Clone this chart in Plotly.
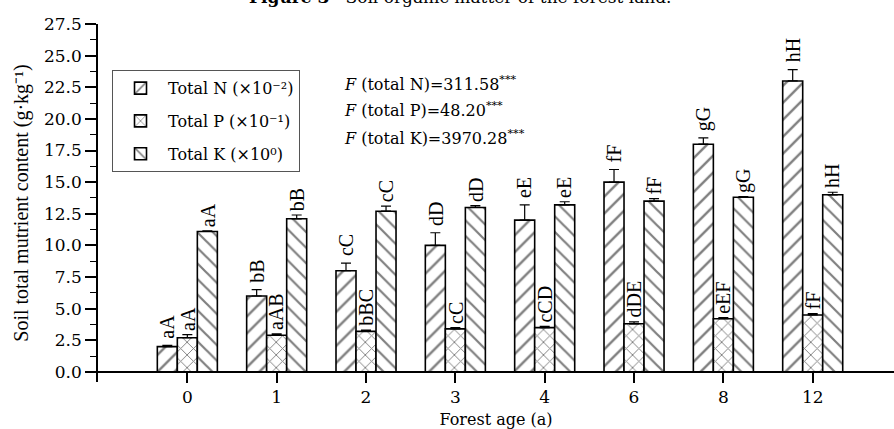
import plotly.graph_objects as go

# Forest age groups and measured nutrient contents (g/kg, scaled as in legend)
ages = ["0", "1", "2", "3", "4", "6", "8", "12"]

total_n = [2.0, 6.0, 8.0, 10.0, 12.0, 15.0, 18.0, 23.0]
total_n_err = [0.1, 0.5, 0.6, 1.0, 1.2, 1.0, 0.5, 0.9]
total_n_sig = ["aA", "bB", "cC", "dD", "eE", "fF", "gG", "hH"]

total_p = [2.7, 2.9, 3.2, 3.4, 3.5, 3.8, 4.2, 4.5]
total_p_err = [0.25, 0.1, 0.1, 0.1, 0.1, 0.15, 0.1, 0.1]
total_p_sig = ["aA", "aAB", "bBC", "cC", "cCD", "dDE", "eEF", "fF"]

total_k = [11.1, 12.1, 12.7, 13.0, 13.2, 13.5, 13.8, 14.0]
total_k_err = [0.05, 0.3, 0.4, 0.15, 0.25, 0.2, 0.05, 0.2]
total_k_sig = ["aA", "bB", "cC", "dD", "eE", "fF", "gG", "hH"]

f_stats = ["311.58", "48.20", "3970.28"]

H_FONT = "DejaVu Serif"      # horizontal text
V_FONT = "Liberation Serif"  # rotated text
BARGAP = 0.328
Y_MIN, Y_MAX = -0.8, 27.5
xpos = list(range(len(ages)))

series = [
    ("Total N (×10⁻²)", total_n, total_n_err, total_n_sig, "/", 12, 5),
    ("Total P (×10⁻¹)", total_p, total_p_err, total_p_sig, "x", 9, 2),
    ("Total K (×10⁰)", total_k, total_k_err, total_k_sig, "\\", 11, 2),
]

fig = go.Figure()
bar_w = (1 - BARGAP) / len(series)
annotations = []
for k, (name, vals, errs, sig, shape, psize, gap) in enumerate(series):
    fig.add_trace(go.Bar(
        x=xpos, y=vals, name=name, legendgroup=name,
        marker=dict(color="white", line=dict(color="black", width=1.6),
                    pattern=dict(shape=shape, size=psize, solidity=0.2,
                                 fgcolor="black", bgcolor="white")),
        error_y=dict(type="data", symmetric=False, array=errs,
                     arrayminus=[0] * len(errs), color="black",
                     thickness=1.2, width=5),
    ))
    off = (k - (len(series) - 1) / 2) * bar_w
    for i, (v, e, s) in enumerate(zip(vals, errs, sig)):
        annotations.append(dict(
            x=i + off, y=v + e, xref="x", yref="y", text=s, showarrow=False,
            textangle=-90, xanchor="center", yanchor="bottom", yshift=gap,
            font=dict(family=V_FONT, size=20, color="black"),
        ))

# ANOVA F statistics
f_labels = ["total N", "total P", "total K"]
f_y = [0.835, 0.760, 0.684]
for lab, val, yy in zip(f_labels, f_stats, f_y):
    annotations.append(dict(
        x=0.306, y=yy, xref="paper", yref="paper", xanchor="left",
        yanchor="middle", showarrow=False,
        text=f"<i>F</i> ({lab})={val}<sup>***</sup>",
        font=dict(family=H_FONT, size=16, color="black"),
    ))

# Figure caption sitting above the plot
annotations.append(dict(
    x=0.456, y=1, xref="paper", yref="paper", xanchor="center",
    yanchor="middle", yshift=27, showarrow=False,
    text="<b>Figure 3</b>   Soil organic matter of the forest land.",
    font=dict(family=H_FONT, size=17, color="black"),
))

fig.update_layout(
    width=894, height=429,
    margin=dict(l=98, r=0, t=24, b=47),
    paper_bgcolor="white", plot_bgcolor="white",
    barmode="group", bargap=BARGAP, bargroupgap=0,
    font=dict(family=H_FONT, size=16, color="black"),
    showlegend=True,
    legend=dict(x=0.0176, y=0.871, xanchor="left", yanchor="top",
                bordercolor="#555", borderwidth=1, bgcolor="white",
                font=dict(family=H_FONT, size=16), tracegroupgap=9,
                itemwidth=45),
    annotations=annotations,
)

# x axis sits on y = 0 while the y axis runs a little below it
fig.update_xaxes(
    range=[-1, 7.91], tickmode="array", tickvals=xpos, ticktext=ages,
    anchor="free", position=(0 - Y_MIN) / (Y_MAX - Y_MIN),
    showline=True, linecolor="black", linewidth=1.6,
    ticks="outside", ticklen=10, tickwidth=1.5, tickcolor="black",
    showgrid=False, zeroline=False,
    tickfont=dict(family=H_FONT, size=17),
    title=dict(text="Forest age (a)", font=dict(family=H_FONT, size=16),
               standoff=7),
)
fig.update_yaxes(
    range=[Y_MIN, Y_MAX], tickmode="linear", tick0=0, dtick=2.5,
    tickformat=".1f",
    showline=True, linecolor="black", linewidth=1.6,
    ticks="outside", ticklen=11, tickwidth=1.5, tickcolor="black",
    minor=dict(ticks="outside", ticklen=6, tickwidth=1.2, tickcolor="black",
               dtick=1.25, tick0=0, showgrid=False),
    showgrid=False, zeroline=False,
    tickfont=dict(family=H_FONT, size=17),
    title=dict(text="Soil total mutrient content (g·kg⁻¹)",
               font=dict(family=V_FONT, size=20), standoff=10),
)

fig.write_html("out.html")
